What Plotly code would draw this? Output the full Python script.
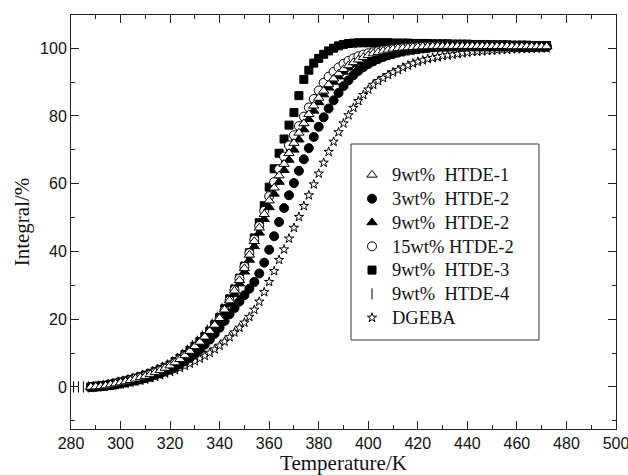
import plotly.graph_objects as go

# Temperature grid (K)
T = list(range(288, 474, 2))
T_htde4 = list(range(281, 473, 2))

htde1_9 = [0, 0.1, 0.2, 0.4, 0.7, 1.0, 1.3, 1.6, 2.0, 2.4,
           2.8, 3.2, 3.7, 4.3, 4.9, 5.6, 6.3, 7.2, 8.2, 9.3,
           10.6, 12.0, 13.3, 14.8, 16.5, 18.3, 20.3, 22.8, 25.5, 28.4,
           31.5, 35.0, 39.0, 43.0, 47.0, 51.0, 55.0, 58.8, 62.4, 65.8,
           69.0, 72.0, 75.0, 77.8, 80.5, 83.0, 85.3, 87.4, 89.3, 91.0,
           92.5, 93.8, 94.9, 95.8, 96.6, 97.3, 97.9, 98.4, 98.8, 99.2,
           99.5, 99.8, 100.0, 100.1, 100.2, 100.3, 100.4, 100.5, 100.5, 100.6,
           100.6, 100.6, 100.6, 100.6, 100.6, 100.6, 100.6, 100.6, 100.6, 100.6,
           100.6, 100.6, 100.6, 100.6, 100.6, 100.5, 100.5, 100.5, 100.5, 100.5,
           100.5, 100.5, 100.5]

htde2_3 = [0, 0.1, 0.2, 0.3, 0.5, 0.7, 1.0, 1.3, 1.6, 1.9,
           2.2, 2.6, 3.0, 3.5, 4.0, 4.6, 5.2, 5.9, 6.7, 7.6,
           8.6, 9.8, 11.1, 12.5, 14.0, 15.7, 17.5, 19.5, 21.5, 23.3,
           25.2, 27.1, 29.0, 31.0, 33.5, 36.7, 40.5, 44.5, 48.7, 52.8,
           56.6, 60.2, 63.8, 67.2, 70.5, 73.8, 76.8, 79.6, 82.2, 84.6,
           86.8, 88.8, 90.5, 92.0, 93.3, 94.4, 95.3, 96.1, 96.8, 97.4,
           97.9, 98.3, 98.7, 99.0, 99.3, 99.5, 99.7, 99.9, 100.0, 100.2,
           100.3, 100.4, 100.4, 100.5, 100.5, 100.5, 100.5, 100.5, 100.5, 100.5,
           100.5, 100.5, 100.5, 100.5, 100.5, 100.4, 100.4, 100.4, 100.4, 100.4,
           100.4, 100.4, 100.4]

htde2_9 = [0, 0.1, 0.2, 0.4, 0.6, 0.9, 1.2, 1.5, 1.9, 2.3,
           2.6, 3.0, 3.5, 4.1, 4.7, 5.3, 6.0, 6.9, 7.9, 9.0,
           10.2, 11.5, 12.8, 14.3, 16.0, 17.7, 19.5, 21.8, 24.5, 27.4,
           30.5, 34.0, 37.5, 41.5, 45.5, 49.5, 53.0, 57.0, 60.5, 64.0,
           67.0, 70.0, 73.0, 76.0, 79.0, 81.5, 84.0, 86.3, 88.3, 90.0,
           91.6, 93.0, 94.2, 95.2, 96.0, 96.8, 97.4, 97.9, 98.4, 98.8,
           99.1, 99.4, 99.6, 99.8, 100.0, 100.1, 100.2, 100.3, 100.4, 100.5,
           100.5, 100.5, 100.6, 100.6, 100.6, 100.6, 100.6, 100.6, 100.6, 100.6,
           100.6, 100.6, 100.6, 100.6, 100.5, 100.5, 100.5, 100.5, 100.5, 100.5,
           100.5, 100.5, 100.5]

htde2_15 = [0, 0.1, 0.2, 0.4, 0.7, 1.0, 1.3, 1.6, 2.0, 2.4,
            2.8, 3.2, 3.7, 4.3, 4.9, 5.5, 6.2, 7.1, 8.1, 9.2,
            10.3, 11.5, 12.8, 14.3, 16.0, 17.9, 20.0, 22.6, 25.5, 28.6,
            32.0, 35.5, 39.5, 43.5, 47.5, 52.0, 56.3, 60.5, 64.3, 68.0,
            71.3, 74.3, 77.0, 79.8, 82.5, 85.0, 87.5, 89.8, 91.6, 93.0,
            94.3, 95.4, 96.3, 97.0, 97.6, 98.1, 98.5, 98.8, 99.1, 99.4,
            99.6, 99.8, 100.0, 100.1, 100.2, 100.3, 100.4, 100.5, 100.5, 100.6,
            100.6, 100.6, 100.7, 100.7, 100.7, 100.7, 100.7, 100.7, 100.7, 100.7,
            100.7, 100.7, 100.7, 100.6, 100.6, 100.6, 100.6, 100.6, 100.6, 100.6,
            100.6, 100.6, 100.6]

htde3_9 = [0, 0.1, 0.3, 0.5, 0.8, 1.1, 1.5, 1.8, 2.2, 2.6,
           3.0, 3.5, 4.0, 4.6, 5.2, 5.8, 6.5, 7.5, 8.5, 9.6,
           10.8, 12.0, 13.4, 14.9, 16.5, 18.4, 20.5, 23.1, 26.0, 28.9,
           32.0, 35.6, 39.6, 44.0, 48.5, 53.5, 59.0, 64.4, 69.0, 73.2,
           77.3, 81.0, 86.0, 90.8, 93.5, 95.6, 97.0, 98.2, 99.2, 100.0,
           100.7, 101.1, 101.4, 101.5, 101.6, 101.6, 101.6, 101.6, 101.6, 101.6,
           101.6, 101.5, 101.5, 101.5, 101.5, 101.4, 101.4, 101.4, 101.4, 101.3,
           101.3, 101.3, 101.3, 101.2, 101.2, 101.2, 101.2, 101.1, 101.1, 101.1,
           101.1, 101.0, 101.0, 101.0, 101.0, 100.9, 100.9, 100.9, 100.9, 100.8,
           100.8, 100.8, 100.8]

htde4_9 = [0, 0, 0,
           0, 0.1, 0.3, 0.5, 0.7, 1.0, 1.4, 1.7, 2.1, 2.5,
           2.9, 3.4, 3.9, 4.5, 5.1, 5.8, 6.5, 7.4, 8.4, 9.5,
           10.8, 12.2, 13.5, 15.1, 16.8, 18.6, 20.6, 23.1, 25.8, 28.8,
           32.0, 35.5, 39.4, 43.4, 47.4, 51.5, 55.6, 59.5, 63.2, 66.7,
           70.0, 73.1, 76.0, 78.8, 81.4, 83.9, 86.2, 88.3, 90.1, 91.7,
           93.1, 94.3, 95.3, 96.2, 96.9, 97.5, 98.0, 98.4, 98.8, 99.1,
           99.4, 99.7, 99.9, 100.0, 100.2, 100.3, 100.4, 100.5, 100.5, 100.6,
           100.6, 100.6, 100.6, 100.6, 100.6, 100.6, 100.6, 100.6, 100.6, 100.6,
           100.6, 100.6, 100.6, 100.6, 100.6, 100.5, 100.5, 100.5, 100.5, 100.5,
           100.5, 100.5, 100.5]

dgeba = [0, 0.1, 0.2, 0.3, 0.4, 0.6, 0.8, 1.0, 1.3, 1.6,
         1.9, 2.2, 2.6, 3.0, 3.5, 4.0, 4.5, 5.0, 5.6, 6.2,
         6.9, 7.6, 8.4, 9.2, 10.1, 11.1, 12.2, 13.4, 14.7, 16.1,
         17.5, 19.0, 20.7, 22.8, 25.2, 28.0, 31.0, 34.2, 37.5, 40.6,
         43.8, 47.0, 50.2, 53.4, 56.6, 59.8, 63.0, 66.2, 69.4, 72.4,
         75.2, 77.8, 80.2, 82.4, 84.4, 86.2, 87.8, 89.2, 90.3, 91.2,
         92.1, 92.9, 93.6, 94.3, 94.9, 95.5, 96.0, 96.4, 96.8, 97.1,
         97.4, 97.7, 97.9, 98.1, 98.3, 98.5, 98.7, 98.9, 99.0, 99.1,
         99.2, 99.3, 99.4, 99.5, 99.6, 99.7, 99.7, 99.8, 99.8, 99.9,
         99.9, 100.0, 100.0]

NB = "\u00a0"
# (name, x, y, symbol, fill, size) in drawing order (bottom to top)
series = [
    ("DGEBA", T, dgeba, "star", "white", 7),
    ("9wt%" + NB * 2 + "HTDE-4", T_htde4, htde4_9, "line-ns-open", "black", 8),
    ("9wt%" + NB * 2 + "HTDE-3", T, htde3_9, "square", "black", 8),
    ("15wt%" + NB + "HTDE-2", T, htde2_15, "circle", "white", 9),
    ("9wt%" + NB * 2 + "HTDE-2", T, htde2_9, "triangle-up", "black", 9),
    ("3wt%" + NB * 2 + "HTDE-2", T, htde2_3, "circle", "black", 9),
    ("9wt%" + NB * 2 + "HTDE-1", T, htde1_9, "triangle-up", "white", 9),
]

fig = go.Figure()
for name, xs, ys, sym, fill, size in series:
    fig.add_trace(go.Scatter(
        x=xs, y=ys, mode="markers",
        name='<span style="font-size:18.5px">' + name + '</span>',
        marker=dict(symbol=sym, size=size, color=fill,
                    line=dict(color="black", width=1)),
    ))

axis_common = dict(
    showgrid=False, zeroline=False, showline=True, linecolor="#222", linewidth=1,
    mirror="ticks", ticks="inside", ticklen=8, tickcolor="#222", tickwidth=1,
    automargin=False, ticklabeloverflow="allow",
    tickfont=dict(family="Liberation Sans, Arial", size=16, color="#111"),
)

fig.update_xaxes(range=[280, 500], tick0=280, dtick=20,
                 minor=dict(dtick=10, ticks="inside", ticklen=4, tickcolor="#222"),
                 title=dict(text="Temperature/K", standoff=2,
                            font=dict(family="Liberation Serif, Times New Roman", size=21, color="#111")),
                 **axis_common)
fig.update_yaxes(range=[-12.4, 109.8], tick0=0, dtick=20,
                 minor=dict(dtick=10, ticks="inside", ticklen=4, tickcolor="#222"),
                 title=dict(text="Integral/%", standoff=4,
                            font=dict(family="Liberation Serif, Times New Roman", size=21, color="#111")),
                 **axis_common)

fig.add_shape(type="rect", xref="paper", yref="paper",
              x0=0.5138, x1=0.8587, y0=0.215, y1=0.6884,
              line=dict(color="#333", width=1), fillcolor="rgba(0,0,0,0)")

fig.update_layout(
    width=628, height=475,
    margin=dict(l=71, r=12, t=15, b=46),
    paper_bgcolor="white", plot_bgcolor="white",
    showlegend=True,
    legend=dict(x=0.5156, y=0.6546, xanchor="left", yanchor="top",
                traceorder="reversed", bgcolor="rgba(0,0,0,0)", borderwidth=0,
                font=dict(family="Liberation Serif, Times New Roman", size=16, color="#111")),
)

fig.write_html("out.html")
